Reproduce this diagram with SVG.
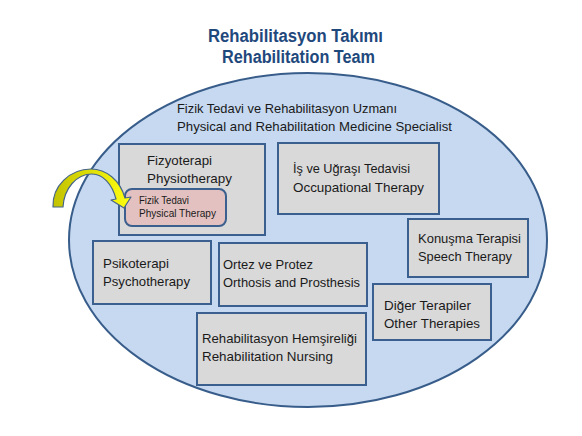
<svg xmlns="http://www.w3.org/2000/svg" width="582" height="436" viewBox="0 0 582 436">
<style>
.t{font-family:"Liberation Sans",Arial,sans-serif;font-size:13px;fill:#1a1a1a}
.s{font-family:"Liberation Sans",Arial,sans-serif;font-size:10px;fill:#1a1a1a}
.h{font-family:"Liberation Sans",Arial,sans-serif;font-size:18px;font-weight:bold;fill:#1f497d}
.box{fill:#d9d9d9;stroke:#3b5f8e;stroke-width:2}
</style>
<defs>
<linearGradient id="ag" x1="0" y1="0" x2="1" y2="0">
<stop offset="0" stop-color="#c2c200"/>
<stop offset="1" stop-color="#ffff10"/>
</linearGradient>
</defs>
<rect width="582" height="436" fill="#ffffff"/>
<g id="title">
<text class="h" x="208" y="42" textLength="175" lengthAdjust="spacingAndGlyphs">Rehabilitasyon Takımı</text>
<text class="h" x="222" y="63" textLength="153" lengthAdjust="spacingAndGlyphs">Rehabilitation Team</text>
</g>
<g id="specialist">
<ellipse cx="308" cy="240" rx="239" ry="167" fill="#c6d9f1" stroke="#385d8a" stroke-width="2"/>
<text class="t" x="177" y="113" textLength="220" lengthAdjust="spacingAndGlyphs">Fizik Tedavi ve Rehabilitasyon Uzmanı</text>
<text class="t" x="177" y="131" textLength="275" lengthAdjust="spacingAndGlyphs">Physical and Rehabilitation Medicine Specialist</text>
</g>
<g id="physiotherapy">
<rect class="box" x="119" y="144" width="146" height="91"/>
<text class="t" x="147" y="165" textLength="65" lengthAdjust="spacingAndGlyphs">Fizyoterapi</text>
<text class="t" x="147" y="183" textLength="85" lengthAdjust="spacingAndGlyphs">Physiotherapy</text>
</g>
<g id="physical-therapy">
<rect x="125" y="189" width="101" height="37" rx="7" fill="#e2c1c0" stroke="#3b5f8e" stroke-width="2"/>
<text class="s" x="139" y="204" textLength="50" lengthAdjust="spacingAndGlyphs">Fizik Tedavi</text>
<text class="s" x="139" y="217" textLength="77" lengthAdjust="spacingAndGlyphs">Physical Therapy</text>
</g>
<g id="occupational">
<rect class="box" x="278" y="143" width="161" height="71"/>
<text class="t" x="293" y="173" textLength="117" lengthAdjust="spacingAndGlyphs">İş ve Uğraşı Tedavisi</text>
<text class="t" x="293" y="192" textLength="131" lengthAdjust="spacingAndGlyphs">Occupational Therapy</text>
</g>
<g id="speech">
<rect class="box" x="408" y="219" width="120" height="58"/>
<text class="t" x="418" y="243" textLength="103" lengthAdjust="spacingAndGlyphs">Konuşma Terapisi</text>
<text class="t" x="418" y="261" textLength="94" lengthAdjust="spacingAndGlyphs">Speech Therapy</text>
</g>
<g id="psychotherapy">
<rect class="box" x="93" y="241" width="118" height="63"/>
<text class="t" x="103" y="268" textLength="66" lengthAdjust="spacingAndGlyphs">Psikoterapi</text>
<text class="t" x="103" y="286" textLength="87" lengthAdjust="spacingAndGlyphs">Psychotherapy</text>
</g>
<g id="orthosis">
<rect class="box" x="219" y="243" width="148" height="63"/>
<text class="t" x="223" y="269" textLength="90" lengthAdjust="spacingAndGlyphs">Ortez ve Protez</text>
<text class="t" x="223" y="287" textLength="137" lengthAdjust="spacingAndGlyphs">Orthosis and Prosthesis</text>
</g>
<g id="other">
<rect class="box" x="373" y="284" width="118" height="56"/>
<text class="t" x="384" y="310" textLength="87" lengthAdjust="spacingAndGlyphs">Diğer Terapiler</text>
<text class="t" x="384" y="328" textLength="96" lengthAdjust="spacingAndGlyphs">Other Therapies</text>
</g>
<g id="nursing">
<rect class="box" x="197" y="313" width="169" height="72"/>
<text class="t" x="202" y="343" textLength="155" lengthAdjust="spacingAndGlyphs">Rehabilitasyon Hemşireliği</text>
<text class="t" x="202" y="361" textLength="131" lengthAdjust="spacingAndGlyphs">Rehabilitation Nursing</text>
</g>
<g id="connectors">
<path d="M53,207 C52,186 70,169 91,169 C106,169 120,180 125,198 L131,197 L124,208 L111,200 L116,199 C112,184 103,174 92,174 C76,174 64,189 63,207 Z" fill="url(#ag)" stroke="#45648a" stroke-width="1.2" stroke-linejoin="round"/>
</g>
</svg>
